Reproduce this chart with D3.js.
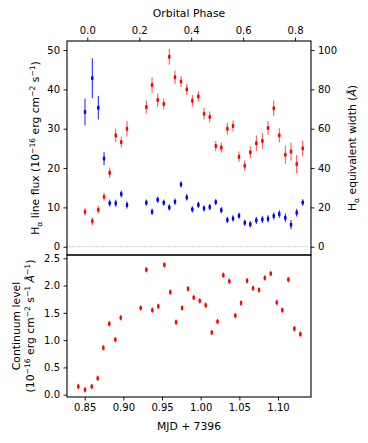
<html>
<head>
<meta charset="utf-8">
<title>H-alpha light curve</title>
<style>
  body { margin: 0; background: #fff; }
  text { font-family: "DejaVu Sans", sans-serif; fill: #000; }
</style>
</head>
<body>
<script src="https://d3js.org/d3.v7.min.js"></script>
<script>

// --- data (MJD - 7396) ---
var topTime = [0.8504, 0.8598, 0.8676, 0.8750, 0.8823, 0.8901, 0.8973, 0.9047,
               0.9297, 0.9371, 0.9444, 0.9522, 0.9594, 0.9668, 0.9746, 0.9820, 0.9892, 0.9970,
               1.0043, 1.0117, 1.0195, 1.0267, 1.0345, 1.0418, 1.0496, 1.0570, 1.0642, 1.0720,
               1.0798, 1.0871, 1.0945, 1.1017, 1.1095, 1.1169, 1.1242, 1.1320];

var lineFlux = [8.9, 6.5, 9.4, 12.7, 18.8, 28.3, 26.6, 30.0,
                35.5, 41.1, 37.3, 36.3, 48.3, 43.1, 42.0, 40.0, 37.1, 38.2,
                33.8, 33.0, 25.6, 25.2, 30.0, 30.7, 22.9, 20.6, 24.0, 26.3,
                26.9, 30.2, 35.2, 28.3, 23.4, 24.2, 21.0, 25.0];
var lineFluxErr = [1.0, 1.0, 1.0, 1.0, 1.3, 1.7, 1.4, 2.0,
                   1.7, 2.0, 1.7, 1.4, 2.0, 1.7, 1.4, 1.4, 1.5, 1.3,
                   1.5, 1.4, 1.3, 1.3, 1.5, 1.4, 1.3, 1.3, 1.5, 2.0,
                   2.0, 1.8, 2.0, 1.8, 2.3, 2.3, 2.3, 2.0];

var eqWidth = [68.5, 85.7, 70.7, 44.8, 22.2, 22.1, 26.8, 21.2,
               22.4, 17.8, 23.9, 22.4, 20.0, 22.9, 31.7, 25.1, 19.0, 21.3,
               19.5, 20.2, 22.7, 18.6, 13.6, 14.4, 15.8, 12.2, 11.4, 13.4,
               13.9, 14.2, 15.6, 16.6, 14.7, 11.2, 17.3, 22.5];
var eqWidthErr = [6.8, 10.2, 6.0, 3.4, 1.8, 1.8, 1.8, 1.8,
                  1.6, 1.6, 1.6, 1.6, 1.6, 1.6, 1.6, 1.6, 1.6, 1.6,
                  1.6, 1.6, 1.6, 1.6, 1.6, 1.6, 1.6, 1.6, 1.6, 1.8,
                  1.8, 1.8, 1.8, 2.0, 2.2, 2.4, 2.0, 1.7];

var contTime = [0.8417, 0.8504, 0.8591, 0.8668, 0.8741, 0.8818, 0.8896, 0.8966,
                0.9224, 0.9297, 0.9375, 0.9452, 0.9530, 0.9607, 0.9681, 0.9759, 0.9836, 0.9910,
                0.9988, 1.0065, 1.0143, 1.0218, 1.0293, 1.0371, 1.0448, 1.0522, 1.0600, 1.0677,
                1.0755, 1.0829, 1.0906, 1.0984, 1.1056, 1.1134, 1.1212, 1.1289];
var continuum = [0.15, 0.09, 0.15, 0.30, 0.86, 1.30, 1.01, 1.41,
                 1.59, 2.29, 1.55, 1.62, 2.38, 1.88, 1.33, 1.59, 1.94, 1.78,
                 1.72, 1.64, 1.14, 1.34, 2.19, 2.08, 1.45, 1.68, 2.09, 1.95,
                 1.92, 2.14, 2.22, 1.69, 1.55, 2.11, 1.21, 1.11];
var continuumErr = 0.05;

var mjdTicks = [0.85, 0.90, 0.95, 1.00, 1.05, 1.10];
var phaseTicks = [0.0, 0.2, 0.4, 0.6, 0.8];
var fluxTicks = [0, 10, 20, 30, 40, 50];
var ewTicks = [0, 20, 40, 60, 80, 100];
var contTicks = [0.0, 0.5, 1.0, 1.5, 2.0, 2.5];

// ephemeris for the top axis
var T0 = 0.85336, period = 0.33588;

var width = 368, height = 443;
var left = 67, right = 311, topY = 41, midY = 255, botY = 397;

var svg = d3.select("body").append("svg")
    .attr("width", width).attr("height", height);

var mjdDomain = [0.8271, 1.1427];
var x = d3.scaleLinear().domain(mjdDomain).range([left, right]);
var xPhase = d3.scaleLinear()
    .domain(mjdDomain.map(function(t){ return (t - T0) / period; }))
    .range([left, right]);
var yFlux = d3.scaleLinear().domain([-2.1, 52.3]).range([midY, topY]);
var yEW = d3.scaleLinear().domain([-4.2, 104.6]).range([midY, topY]);
var yCont = d3.scaleLinear().domain([-0.042, 2.56]).range([botY, midY]);

function styleAxis(g) {
  g.select(".domain").remove();
  g.selectAll(".tick line").attr("stroke", "#000").attr("stroke-width", 0.9);
  g.selectAll(".tick text").style("font-family", "DejaVu Sans").style("font-size", "10px").attr("fill", "#000");
}

// zero line
svg.append("line")
   .attr("x1", left).attr("x2", right)
   .attr("y1", yFlux(0)).attr("y2", yFlux(0))
   .attr("stroke", "#aaa").attr("stroke-width", 0.8)
   .attr("stroke-dasharray", "1.2,1.2");

// axes
svg.append("g").attr("transform", "translate(" + left + ",0)")
   .call(d3.axisLeft(yFlux).tickValues(fluxTicks).tickFormat(d3.format("d")).tickSize(3.5).tickPadding(3.5))
   .call(styleAxis);
svg.append("g").attr("transform", "translate(" + right + ",0)")
   .call(d3.axisRight(yEW).tickValues(ewTicks).tickFormat(d3.format("d")).tickSize(3.5).tickPadding(3.5))
   .call(styleAxis);
svg.append("g").attr("transform", "translate(0," + topY + ")")
   .call(d3.axisTop(xPhase).tickValues(phaseTicks).tickFormat(d3.format(".1f")).tickSize(3.5).tickPadding(3.5))
   .call(styleAxis);
svg.append("g").attr("transform", "translate(" + left + ",0)")
   .call(d3.axisLeft(yCont).tickValues(contTicks).tickFormat(d3.format(".1f")).tickSize(3.5).tickPadding(3.5))
   .call(styleAxis);
svg.append("g").attr("transform", "translate(0," + botY + ")")
   .call(d3.axisBottom(x).tickValues(mjdTicks).tickFormat(d3.format(".2f")).tickSize(3.5).tickPadding(3.5))
   .call(styleAxis);

// error-bar points
function drawPoints(times, vals, errs, yScale, color, barOpacity) {
  var g = svg.append("g");
  var pts = times.map(function(t, i){
    return {t: t, v: vals[i], e: Array.isArray(errs) ? errs[i] : errs};
  });
  g.selectAll("line.bar").data(pts).enter().append("line")
    .attr("x1", function(d){ return x(d.t); }).attr("x2", function(d){ return x(d.t); })
    .attr("y1", function(d){ return yScale(d.v - d.e); })
    .attr("y2", function(d){ return yScale(d.v + d.e); })
    .attr("stroke", color).attr("stroke-width", 1).attr("stroke-opacity", barOpacity);
  g.selectAll("line.cap").data(pts).enter().append("line")
    .attr("x1", function(d){ return x(d.t) - 1.2; }).attr("x2", function(d){ return x(d.t) + 1.2; })
    .attr("y1", function(d){ return yScale(d.v); }).attr("y2", function(d){ return yScale(d.v); })
    .attr("stroke", color).attr("stroke-width", 3);
  g.selectAll("line.cross").data(pts).enter().append("line")
    .attr("x1", function(d){ return x(d.t); }).attr("x2", function(d){ return x(d.t); })
    .attr("y1", function(d){ return yScale(d.v) - 2; }).attr("y2", function(d){ return yScale(d.v) + 2; })
    .attr("stroke", color).attr("stroke-width", 1.6);
}

drawPoints(topTime, lineFlux, lineFluxErr, yFlux, "#ff0000", 0.7);
drawPoints(topTime, eqWidth, eqWidthErr, yEW, "#0000ff", 0.9);
drawPoints(contTime, continuum, continuumErr, yCont, "#ff0000", 0.8);

// frames
svg.append("rect").attr("x", left).attr("y", topY)
   .attr("width", right - left).attr("height", midY - topY)
   .attr("fill", "none").attr("stroke", "#000").attr("stroke-width", 1.1);
svg.append("rect").attr("x", left).attr("y", midY)
   .attr("width", right - left).attr("height", botY - midY)
   .attr("fill", "none").attr("stroke", "#000").attr("stroke-width", 1.1);

// labels
svg.append("text").attr("x", (left + right) / 2).attr("y", 17)
   .attr("text-anchor", "middle").style("font-size", "10.8px").text("Orbital Phase");
svg.append("text").attr("x", (left + right) / 2).attr("y", 430)
   .attr("text-anchor", "middle").style("font-size", "10.8px").text("MJD + 7396");

// helper for rotated labels with sub/superscripts
function richLabel(cx, cy, parts) {
  var t = svg.append("text")
     .attr("transform", "translate(" + cx + "," + cy + ") rotate(-90)")
     .attr("text-anchor", "middle").style("font-size", "10.8px");
  var shift = 0;
  parts.forEach(function(p){
    var s = p[1] || 0;
    var ts = t.append("tspan").text(p[0]).attr("dy", (s - shift));
    if (s !== 0) ts.style("font-size", "7.6px");
    if (p[2]) ts.style("font-style", "italic");
    shift = s;
  });
  if (shift !== 0) t.append("tspan").text("").attr("dy", -shift);
  return t;
}

richLabel(39, (topY + midY) / 2, [
  ["H"], ["\u03b1", 2.5], [" line flux (10", 0], ["\u221216", -4.5], [" erg cm", 0],
  ["\u22122", -4.5], [" s", 0], ["\u22121", -4.5], [")", 0]
]);
richLabel(356, (topY + midY) / 2, [
  ["H"], ["\u03b1", 2.5], [" equivalent width (", 0], ["\u00c5", 0, true], [")", 0]
]);
richLabel(20, (midY + botY) / 2, [["Continuum level"]]);
richLabel(34, (midY + botY) / 2, [
  ["(10"], ["\u221216", -4.5], [" erg cm", 0], ["\u22122", -4.5], [" s", 0],
  ["\u22121", -4.5], [" ", 0], ["\u00c5", 0, true], ["\u22121", -4.5], [")", 0]
]);

</script>
</body>
</html>
